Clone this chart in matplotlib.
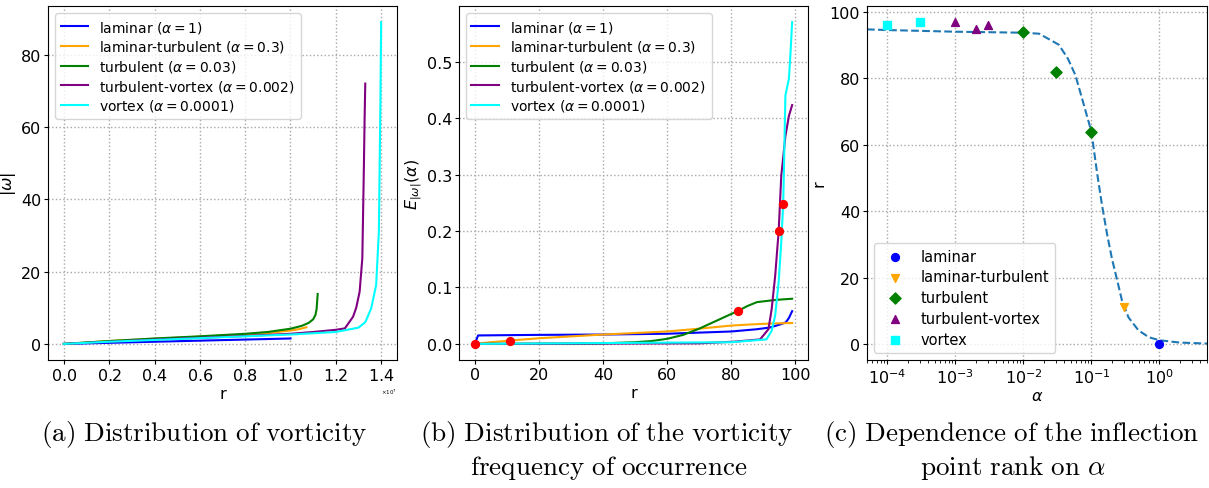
import numpy as np
import matplotlib
matplotlib.use("Agg")
import matplotlib.pyplot as plt
from matplotlib.ticker import ScalarFormatter, MultipleLocator

# ---- (a) vorticity |omega| vs r (r in units of 1e7) ----
r_lam = [0.0, 0.2, 0.4, 0.6, 0.8, 1.0]
w_lam = [0.0, 0.3, 0.6, 0.9, 1.2, 1.5]
r_lt = [0.0, 0.2, 0.4, 0.6, 0.8, 0.9, 1.0, 1.04, 1.07]
w_lt = [0.0, 0.8, 1.4, 2.0, 2.6, 3.0, 3.7, 4.1, 4.6]
r_tur = [0.0, 0.2, 0.4, 0.6, 0.8, 0.9, 1.0, 1.05, 1.08, 1.10, 1.11, 1.115, 1.12]
w_tur = [0.0, 0.8, 1.5, 2.1, 2.8, 3.3, 4.2, 5.0, 5.8, 6.8, 8.0, 9.5, 13.8]
r_tv = [0.0, 0.2, 0.4, 0.6, 0.8, 1.0, 1.1, 1.2, 1.24, 1.276, 1.29, 1.305, 1.317, 1.324, 1.327, 1.33]
w_tv = [0.0, 0.6, 1.2, 1.7, 2.2, 2.8, 3.3, 3.9, 4.3, 7.5, 10.0, 14.4, 23.7, 49.5, 62.0, 72.0]
r_vor = [0.0, 0.2, 0.4, 0.6, 0.8, 1.0, 1.2, 1.3, 1.33, 1.356, 1.378, 1.39, 1.397, 1.40]
w_vor = [0.0, 0.6, 1.1, 1.6, 2.1, 2.6, 3.3, 4.5, 6.0, 9.8, 16.3, 31.0, 68.0, 89.0]

# ---- (b) frequency of occurrence E vs rank r ----
rb_lam = [0, 1, 10, 20, 40, 60, 80, 88, 92, 95, 97, 98, 99]
e_lam = [0.0, 0.015, 0.0155, 0.016, 0.0166, 0.018, 0.022, 0.026, 0.029, 0.034, 0.038, 0.046, 0.058]
rb_lt = [0, 5, 11, 20, 40, 60, 70, 80, 88, 92, 99]
e_lt = [0.0, 0.003, 0.006, 0.010, 0.0166, 0.022, 0.027, 0.0325, 0.035, 0.036, 0.037]
rb_tur = [0, 30, 40, 50, 55, 60, 65, 70, 75, 80, 82, 85, 88, 94, 99]
e_tur = [0.0, 0.0005, 0.001, 0.003, 0.005, 0.009, 0.016, 0.027, 0.040, 0.053, 0.058, 0.067, 0.074, 0.078, 0.080]
rb_tv = [0, 70, 81, 89, 91.6, 92.6, 93.7, 94.8, 95.6, 96.9, 98, 99]
e_tv = [0.0, 0.001, 0.004, 0.008, 0.026, 0.061, 0.12, 0.20, 0.297, 0.368, 0.404, 0.423]
rb_vor = [0, 80, 91, 92.6, 93.7, 94.8, 95.6, 96.2, 96.4, 96.9, 98, 98.5, 99]
e_vor = [0.0, 0.003, 0.008, 0.023, 0.05, 0.11, 0.18, 0.247, 0.297, 0.44, 0.47, 0.516, 0.57]
infl_r = [0, 11, 82, 94.8, 96.2]
infl_e = [0.0, 0.006, 0.058, 0.20, 0.247]

# ---- (c) inflection point rank vs alpha ----
a_lam, p_lam = [1.0], [0]
a_lt, p_lt = [0.3], [11]
a_tur, p_tur = [0.01, 0.03, 0.1], [94, 82, 64]
a_tv, p_tv = [0.001, 0.002, 0.003], [97, 95, 96]
a_vor, p_vor = [0.0001, 0.0003], [96, 97]
a_fit = [5e-5, 1e-4, 1e-3, 1e-2, 0.017, 0.033, 0.045, 0.058, 0.075, 0.1, 0.12,
         0.143, 0.17, 0.2, 0.24, 0.28, 0.35, 0.49, 0.7, 1.0, 2.0, 5.0]
p_fit = [94.8, 94.6, 94.1, 93.8, 93.5, 90.2, 86.0, 81.0, 73.0, 63.9, 52.0,
         41.8, 33.0, 25.7, 19.0, 13.2, 8.0, 4.1, 2.0, 1.1, 0.4, 0.1]

names = ["laminar", "laminar-turbulent", "turbulent", "turbulent-vortex", "vortex"]
alphas = ["1", "0.3", "0.03", "0.002", "0.0001"]
colors = ["blue", "orange", "green", "purple", "cyan"]
labels = [f"{n} ($\\alpha = {a}$)" for n, a in zip(names, alphas)]

plt.rcParams["font.size"] = 10
plt.rcParams["legend.fontsize"] = 10
plt.rcParams["axes.labelsize"] = 11.5
plt.rcParams["axes.labelpad"] = 2
for ax_ in ("xtick", "ytick"):
    plt.rcParams[f"{ax_}.labelsize"] = 11.5
    plt.rcParams[f"{ax_}.major.size"] = 3
    plt.rcParams[f"{ax_}.major.pad"] = 2
    plt.rcParams[f"{ax_}.minor.size"] = 1.8

fig = plt.figure(figsize=(12.09, 4.89), dpi=100)
W, H = 1209, 489

def box(l, r, t, b):
    return [l / W, 1 - b / H, (r - l) / W, (b - t) / H]

grid_kw = dict(linestyle=":", color="#a8a8a8", linewidth=1.0)

# panel a
ax1 = fig.add_axes(box(48, 397, 7, 361))
for rr, ww, c, lab in zip([r_lam, r_lt, r_tur, r_tv, r_vor],
                          [w_lam, w_lt, w_tur, w_tv, w_vor], colors, labels):
    ax1.plot(np.array(rr) * 1e7, ww, color=c, label=lab, lw=1.5)
ax1.xaxis.set_major_locator(MultipleLocator(0.2e7))
fmt = ScalarFormatter(useMathText=True)
ax1.xaxis.set_major_formatter(fmt)
ax1.xaxis.get_offset_text().set_fontsize(4)
ax1.set_xlabel("r")
ax1.set_ylabel(r"$|\omega|$")
ax1.grid(True, **grid_kw)
ax1.legend(loc="upper left", labelspacing=0.27)

# panel b
ax2 = fig.add_axes(box(459, 808, 7, 361))
for rr, ee, c, lab in zip([rb_lam, rb_lt, rb_tur, rb_tv, rb_vor],
                          [e_lam, e_lt, e_tur, e_tv, e_vor], colors, labels):
    ax2.plot(rr, ee, color=c, label=lab, lw=1.5)
ax2.scatter(infl_r, infl_e, color="red", s=32, zorder=3)
ax2.set_xlabel("r")
ax2.set_ylabel(r"$E_{|\omega|}(\alpha)$")
ax2.grid(True, **grid_kw)
ax2.legend(loc="upper left", labelspacing=0.27)

# panel c
ax3 = fig.add_axes(box(867, 1207, 7, 361))
ax3.plot(a_fit, p_fit, "--", color="tab:blue", lw=1.5)
markers = ["o", "v", "D", "^", "s"]
for aa, pp, c, m, n in zip([a_lam, a_lt, a_tur, a_tv, a_vor],
                           [p_lam, p_lt, p_tur, p_tv, p_vor], colors, markers, names):
    ax3.scatter(aa, pp, color=c, marker=m, s=32, label=n, zorder=3)
ax3.set_xscale("log")
ax3.set_xlim(5e-5, 5)
ax3.set_xlabel(r"$\alpha$")
ax3.set_ylabel("r")
ax3.grid(True, **grid_kw)
ax3.legend(loc="lower left", labelspacing=0.4, fontsize=10.5)

# captions
cap = dict(ha="center", va="center", fontsize=19.5, math_fontfamily="cm")
fig.text(204 / W, 1 - 435 / H, r"$\mathrm{(a)\ Distribution\ of\ vorticity}$", **cap)
fig.text(607 / W, 1 - 435 / H, r"$\mathrm{(b)\ Distribution\ of\ the\ vorticity}$", **cap)
fig.text(609 / W, 1 - 468 / H, r"$\mathrm{frequency\ of\ occurrence}$", **cap)
fig.text(1012 / W, 1 - 435 / H, r"$\mathrm{(c)\ Dependence\ of\ the\ inflection}$", **cap)
fig.text(1013 / W, 1 - 468 / H, r"$\mathrm{point\ rank\ on}\ \alpha$", **cap)

fig.savefig("out.png", dpi=100)
